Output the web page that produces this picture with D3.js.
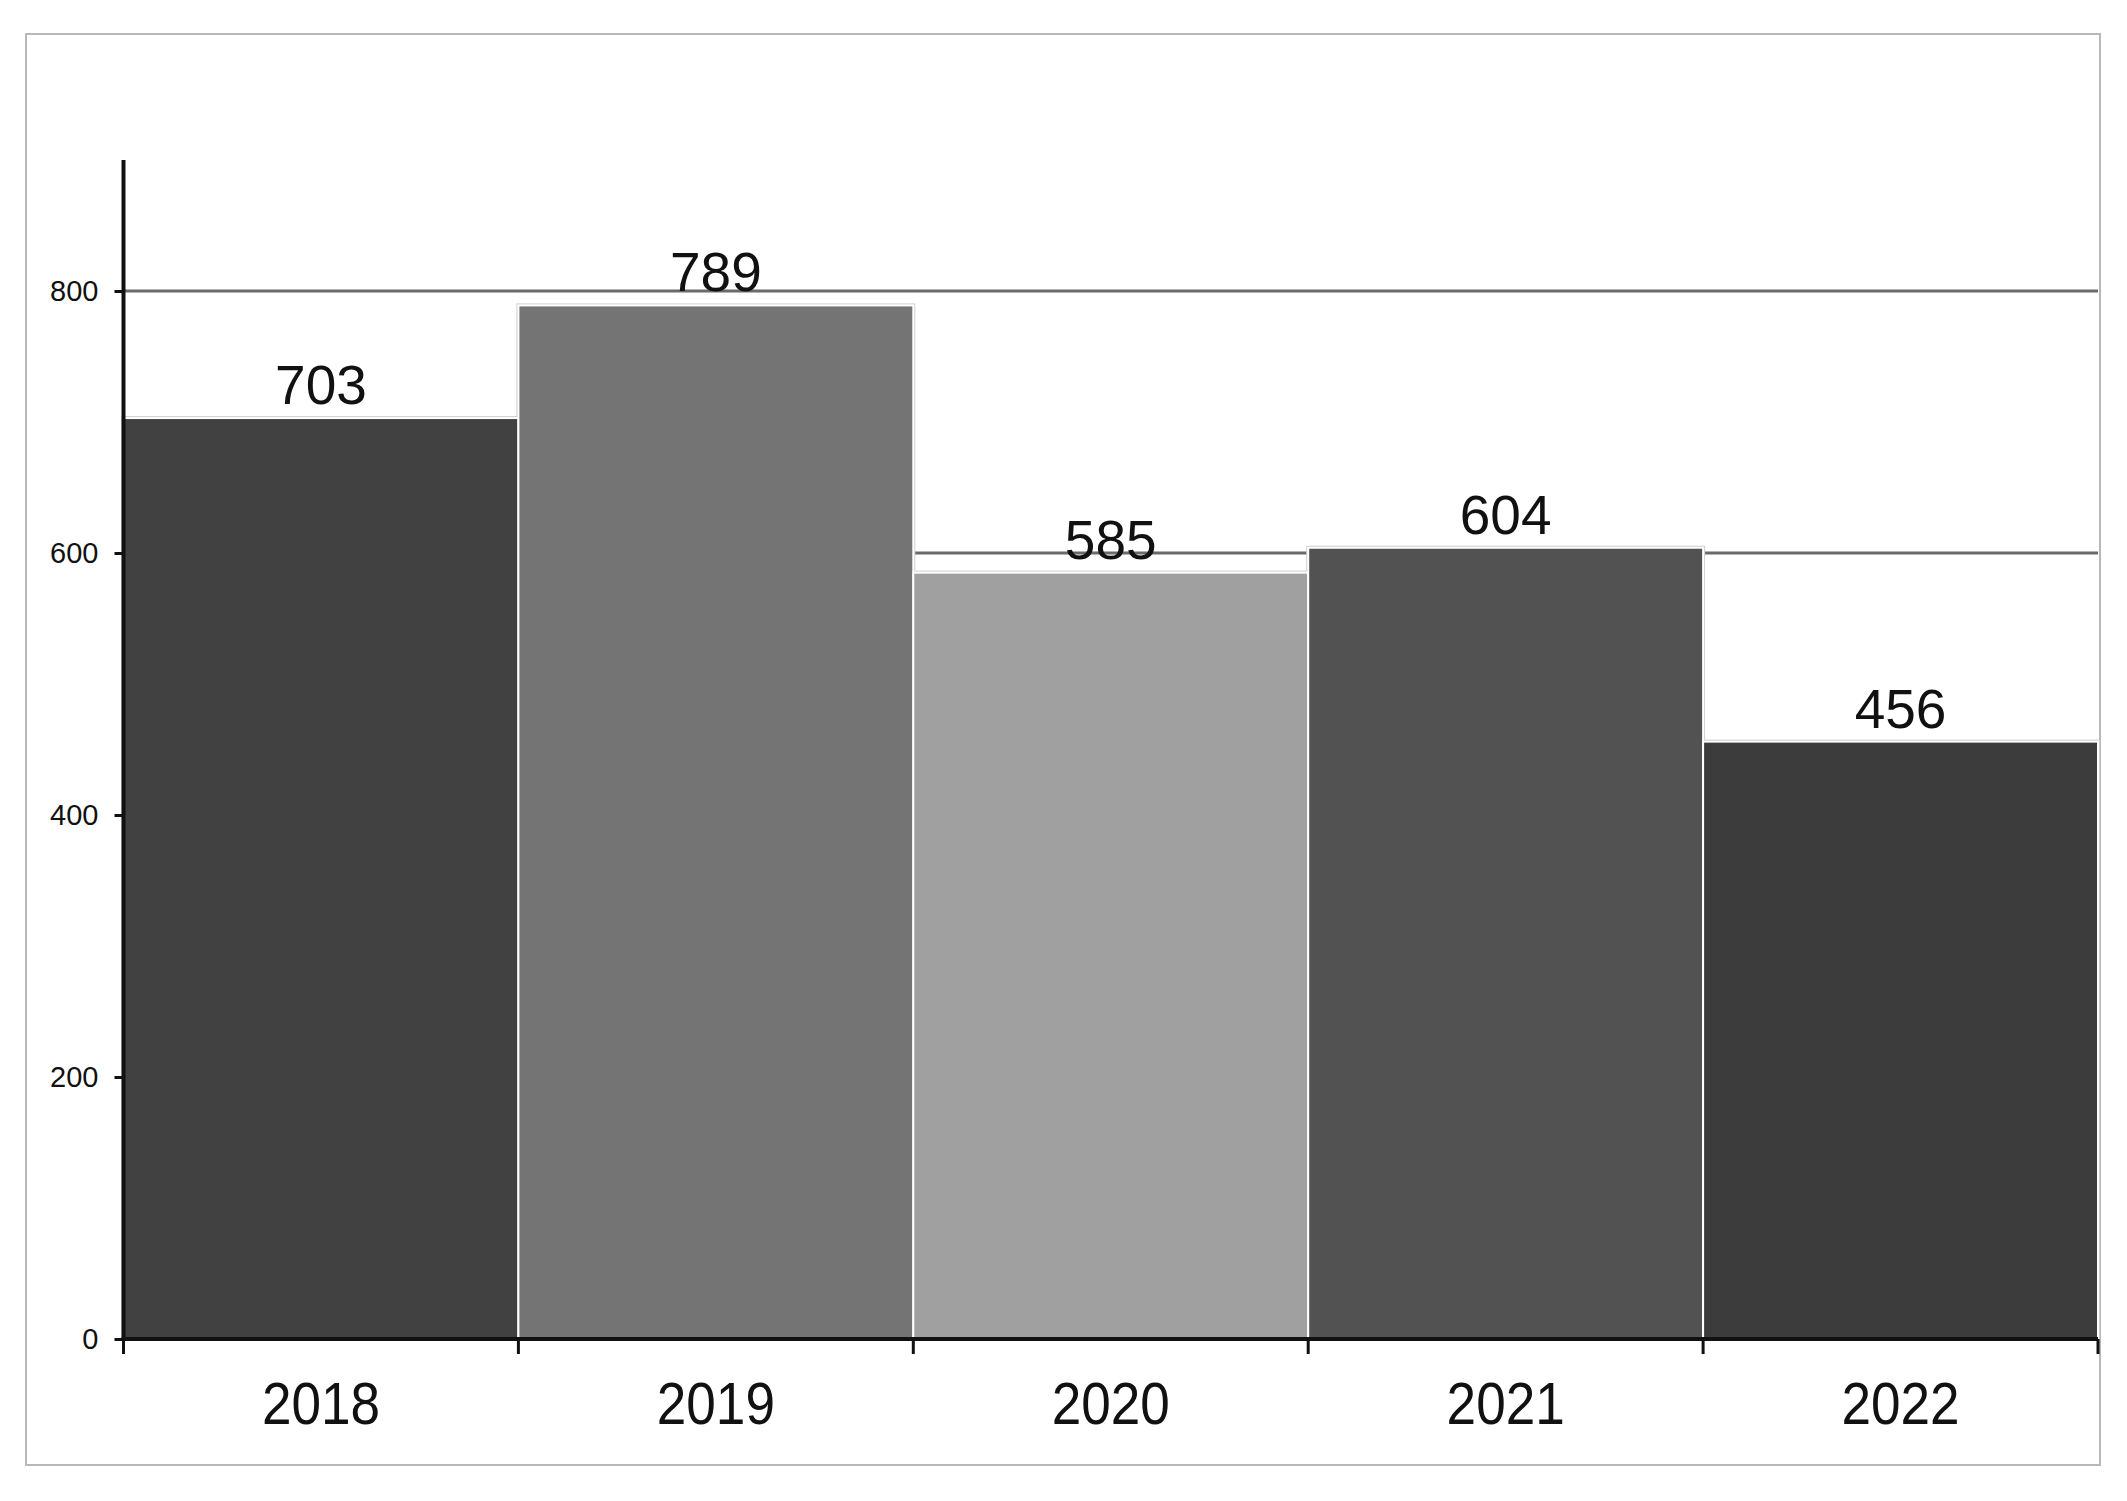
<!DOCTYPE html>
<html>
<head>
<meta charset="utf-8">
<script src="https://cdn.jsdelivr.net/npm/d3@7/dist/d3.min.js"></script>
<style>
  html, body { margin: 0; padding: 0; background: #fff; }
  svg { display: block; }
  text { font-family: "Liberation Sans", Arial, sans-serif; fill: #111; }
</style>
</head>
<body>
<svg id="chart" width="2127" height="1501"></svg>
<script>
const categories = ["2018", "2019", "2020", "2021", "2022"];
const values = [703, 789, 585, 604, 456];
const barColors = ["#414141", "#747474", "#a0a0a0", "#525252", "#3c3c3c"];
const yTicks = [0, 200, 400, 600, 800];

(function () {
const svg = d3.select("#chart");
const mLeft = 123.5, mRight = 2098, mTop = 160, mBottom = 1339;

// outer border
svg.append("rect")
  .attr("x", 26).attr("y", 34)
  .attr("width", 2100 - 26).attr("height", 1465 - 34)
  .attr("fill", "#fff").attr("stroke", "#b8b8b8").attr("stroke-width", 2);

const x = d3.scaleBand().domain(categories).range([mLeft, mRight]).paddingInner(0).paddingOuter(0);
const y = d3.scaleLinear().domain([0, 900]).range([mBottom, mTop]);

// gridlines
svg.append("g").selectAll("line").data(yTicks.filter(d => d > 0)).join("line")
  .attr("x1", mLeft).attr("x2", mRight)
  .attr("y1", d => y(d)).attr("y2", d => y(d))
  .attr("stroke", "#6b6b6b").attr("stroke-width", 3);

// bar shadows
svg.append("g").selectAll("rect").data(values).join("rect")
  .attr("x", (d, i) => x(categories[i]) - 2)
  .attr("y", d => y(d) - 2)
  .attr("width", x.bandwidth() + 4)
  .attr("height", d => mBottom - y(d) + 2)
  .attr("fill", "#cfcfcf");

// bars
svg.append("g").selectAll("rect").data(values).join("rect")
  .attr("x", (d, i) => x(categories[i]))
  .attr("y", d => y(d))
  .attr("width", x.bandwidth())
  .attr("height", d => mBottom - y(d))
  .attr("fill", (d, i) => barColors[i])
  .attr("stroke", "#ffffff").attr("stroke-width", 2);

// value labels
svg.append("g").selectAll("text").data(values).join("text")
  .attr("x", (d, i) => x(categories[i]) + x.bandwidth() / 2)
  .attr("y", d => y(d) - 14)
  .attr("text-anchor", "middle")
  .attr("font-size", 55)
  .text(d => d);

// y axis
const yAxis = d3.axisLeft(y).tickValues(yTicks).tickSize(9).tickPadding(16).tickFormat(d3.format("d"));
const gy = svg.append("g").attr("transform", `translate(${mLeft},0)`).call(yAxis);
gy.select(".domain").remove();
gy.selectAll(".tick line").attr("stroke", "#111").attr("stroke-width", 3);
gy.selectAll(".tick text").attr("font-size", 29).attr("fill", "#111")
  .style("font-family", '"Liberation Sans", Arial, sans-serif');
svg.append("line").attr("x1", mLeft).attr("x2", mLeft).attr("y1", mTop).attr("y2", mBottom + 2)
  .attr("stroke", "#111").attr("stroke-width", 4);

// x axis line and ticks at band boundaries
const boundaries = categories.map(c => x(c)).concat([mRight]);
svg.append("line").attr("x1", mLeft - 2).attr("x2", mRight).attr("y1", mBottom).attr("y2", mBottom)
  .attr("stroke", "#111").attr("stroke-width", 4);
svg.append("g").selectAll("line").data(boundaries).join("line")
  .attr("x1", d => d).attr("x2", d => d)
  .attr("y1", mBottom).attr("y2", mBottom + 15)
  .attr("stroke", "#111").attr("stroke-width", 3);

// category labels
svg.append("g").selectAll("text").data(categories).join("text")
  .attr("transform", d => `translate(${x(d) + x.bandwidth() / 2},1424) scale(0.9,1)`)
  .attr("text-anchor", "middle")
  .attr("font-size", 59)
  .text(d => d);
})();
</script>
</body>
</html>
